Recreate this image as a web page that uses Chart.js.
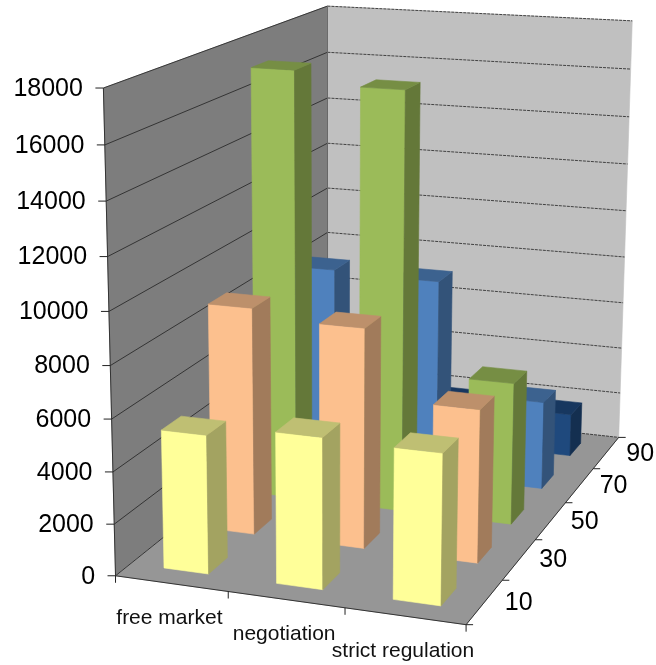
<!DOCTYPE html>
<html>
<head>
<meta charset="utf-8">
<title>Regulation chart</title>
<script src="https://cdn.jsdelivr.net/npm/chart.js@4"></script>
<style>
  html, body { margin: 0; padding: 0; background: #fff; }
  canvas { display: block; }
</style>
</head>
<body>
<canvas id="bars3d" width="656" height="665"></canvas>
<script>
const categories = ['free market', 'negotiation', 'strict regulation'];
const depthLabels = ['10', '30', '50', '70', '90'];

const series10 = [5330, 5750, 5680];
const series30 = [8950, 8600, 5950];
const series50 = [17230, 16730, 5680];
const series70 = [8330, 8230, 3630];
const series90 = [2000, 1880, 1800];

// front, side and top colour of each row of bars
const faces10 = ['#ffff99', '#a3a361', '#bfbf73'];
const faces30 = ['#fcc08e', '#a17b5b', '#bd906b'];
const faces50 = ['#9bbb59', '#647839', '#768e44'];
const faces70 = ['#4f81bd', '#335379', '#3c628f'];
const faces90 = ['#1f497d', '#142f50', '#17375f'];

// where the corners of the box land on the canvas: [u, v, w, x, y]
const boxCorners = [
  [0, 0, 0, 116, 575.5],
  [1, 0, 0, 466, 625],
  [0, 1, 0, 327, 406],
  [1, 1, 0, 619, 437],
  [0, 0, 1, 103, 88],
  [0, 1, 1, 328, 6],
  [1, 1, 1, 632, 21]
];

function solve(a, b) {
  const n = b.length;
  for (let c = 0; c < n; c++) {
    let p = c;
    for (let r = c + 1; r < n; r++) if (Math.abs(a[r][c]) > Math.abs(a[p][c])) p = r;
    [a[c], a[p]] = [a[p], a[c]];
    [b[c], b[p]] = [b[p], b[c]];
    for (let r = c + 1; r < n; r++) {
      const f = a[r][c] / a[c][c];
      for (let k = c; k < n; k++) a[r][k] -= f * a[c][k];
      b[r] -= f * b[c];
    }
  }
  const out = new Array(n).fill(0);
  for (let r = n - 1; r >= 0; r--) {
    let s = b[r];
    for (let k = r + 1; k < n; k++) s -= a[r][k] * out[k];
    out[r] = s / a[r][r];
  }
  return out;
}

// least squares fit of the 3x4 perspective matrix
function fitCamera(points) {
  const ata = Array.from({ length: 11 }, () => new Array(11).fill(0));
  const atb = new Array(11).fill(0);
  const add = (row, t) => {
    for (let i = 0; i < 11; i++) {
      atb[i] += row[i] * t;
      for (let j = 0; j < 11; j++) ata[i][j] += row[i] * row[j];
    }
  };
  points.forEach(([u, v, w, x, y]) => {
    add([u, v, w, 1, 0, 0, 0, 0, -x * u, -x * v, -x * w], x);
    add([0, 0, 0, 0, u, v, w, 1, -y * u, -y * v, -y * w], y);
  });
  return solve(ata, atb);
}

const cam = fitCamera(boxCorners);

function project(u, v, w) {
  const d = cam[8] * u + cam[9] * v + cam[10] * w + 1;
  return {
    x: (cam[0] * u + cam[1] * v + cam[2] * w + cam[3]) / d,
    y: (cam[4] * u + cam[5] * v + cam[6] * w + cam[7]) / d
  };
}

function poly(ctx, pts, fill) {
  ctx.beginPath();
  pts.forEach((p, i) => (i ? ctx.lineTo(p.x, p.y) : ctx.moveTo(p.x, p.y)));
  ctx.closePath();
  ctx.fillStyle = fill;
  ctx.strokeStyle = fill;
  ctx.lineWidth = 0.6;
  ctx.fill();
  ctx.stroke();
}

function line(ctx, a, b, color, width, dash) {
  ctx.beginPath();
  ctx.setLineDash(dash || []);
  ctx.moveTo(a.x, a.y);
  ctx.lineTo(b.x, b.y);
  ctx.strokeStyle = color;
  ctx.lineWidth = width;
  ctx.stroke();
  ctx.setLineDash([]);
}

const box3d = {
  id: 'box3d',
  beforeDatasetsDraw(chart) {
    const { ctx, scales } = chart;
    const { x: xs, y: ys, depth: zs } = scales;

    // scale pixels turned into 0..1 box coordinates
    const uOf = i => (xs.getPixelForValue(i) - xs.left) / xs.width;
    const vOf = i => (zs.getPixelForValue(i) - zs.left) / zs.width;
    const wOf = val => (ys.bottom - ys.getPixelForValue(val)) / ys.height;
    const cellU = 1 / categories.length;
    const cellV = 1 / depthLabels.length;

    ctx.save();

    // walls and floor
    poly(ctx, [project(0, 0, 0), project(0, 1, 0), project(0, 1, 1), project(0, 0, 1)], '#7d7d7d');
    poly(ctx, [project(0, 1, 0), project(1, 1, 0), project(1, 1, 1), project(0, 1, 1)], '#c0c0c0');
    poly(ctx, [project(0, 0, 0), project(1, 0, 0), project(1, 1, 0), project(0, 1, 0)], '#969696');

    // grid lines follow the value ticks around both walls
    ys.ticks.forEach(t => {
      const w = wOf(t.value);
      line(ctx, project(0, 0, w), project(0, 1, w), '#2b2b2b', 0.9);
      line(ctx, project(0, 1, w), project(1, 1, w), '#333', 0.9, [3, 1]);
    });
    line(ctx, project(0, 1, 0), project(0, 1, 1), '#666', 1);

    // axes
    line(ctx, project(0, 0, 0), project(0, 0, 1), '#333', 1);
    line(ctx, project(0, 0, 0), project(1, 0, 0), '#333', 1);
    line(ctx, project(1, 0, 0), project(1, 1, 0), '#333', 1);

    ctx.fillStyle = '#000';

    // value axis
    ctx.font = '25px "Liberation Sans"';
    ctx.textAlign = 'right';
    ctx.textBaseline = 'middle';
    ys.ticks.forEach(t => {
      const p = project(0, 0, wOf(t.value));
      line(ctx, { x: p.x - 8, y: p.y }, p, '#222', 1);
      ctx.fillStyle = '#000';
      ctx.fillText(t.label, p.x - 20.5, p.y + 1);
    });

    // category axis
    for (let i = 0; i <= categories.length; i++) {
      const p = project(i * cellU, 0, 0);
      line(ctx, p, { x: p.x, y: p.y + 7 }, '#222', 1);
    }
    ctx.font = '21px "Liberation Sans"';
    ctx.textAlign = 'center';
    ctx.fillStyle = '#111';
    categories.forEach((c, i) => {
      const p = project(uOf(i), 0, 0);
      ctx.fillText(c, p.x - 2, p.y + 35);
    });

    // depth axis
    for (let i = 0; i <= depthLabels.length; i++) {
      const p = project(1, i * cellV, 0);
      line(ctx, p, { x: p.x + 7, y: p.y }, '#222', 1);
    }
    ctx.font = '25px "Liberation Sans"';
    ctx.fillStyle = '#000';
    depthLabels.forEach((c, i) => {
      const p = project(1, vOf(i), 0);
      ctx.fillText(c, p.x + 34, p.y + 1);
    });

    // bars, from the back row to the front one and left to right
    for (let d = chart.data.datasets.length - 1; d >= 0; d--) {
      const set = chart.data.datasets[d];
      const [front, side, top] = set.faces;
      const v0 = vOf(d) - cellV * set.barPercentage / 2;
      const v1 = vOf(d) + cellV * set.barPercentage / 2;
      set.data.forEach((val, i) => {
        const u0 = uOf(i) - cellU * set.barPercentage / 2;
        const u1 = uOf(i) + cellU * set.barPercentage / 2;
        const w = wOf(val);
        poly(ctx, [project(u0, v0, 0), project(u1, v0, 0), project(u1, v0, w), project(u0, v0, w)], front);
        poly(ctx, [project(u1, v0, 0), project(u1, v1, 0), project(u1, v1, w), project(u1, v0, w)], side);
        poly(ctx, [project(u0, v0, w), project(u1, v0, w), project(u1, v1, w), project(u0, v1, w)], top);
      });
    }

    ctx.restore();
    return false; // the flat bars are replaced by the boxes above
  }
};

const mkSet = (label, data, faces) => ({
  label, data, faces,
  backgroundColor: faces[0],
  barPercentage: 0.4
});

new Chart(document.getElementById('bars3d'), {
  type: 'bar',
  data: {
    labels: categories,
    datasets: [
      mkSet('10', series10, faces10),
      mkSet('30', series30, faces30),
      mkSet('50', series50, faces50),
      mkSet('70', series70, faces70),
      mkSet('90', series90, faces90)
    ]
  },
  plugins: [box3d],
  options: {
    responsive: false,
    animation: false,
    layout: { padding: 0 },
    plugins: { legend: { display: false }, tooltip: { enabled: false } },
    scales: {
      x: { type: 'category', offset: true, display: false },
      depth: { type: 'category', axis: 'x', position: 'bottom', labels: depthLabels, offset: true, display: false },
      y: {
        type: 'linear',
        min: 0,
        max: 18000,
        display: false,
        ticks: { stepSize: 2000, autoSkip: false, callback: v => String(v) }
      }
    }
  }
});
</script>
</body>
</html>
